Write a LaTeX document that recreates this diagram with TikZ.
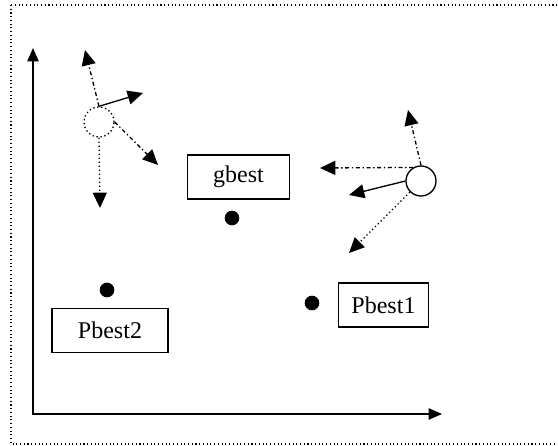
\documentclass[tikz,border=0pt]{standalone}
\usepackage{fontspec}
\setmainfont{Liberation Serif}
\usetikzlibrary{arrows.meta}

\begin{document}
\begin{tikzpicture}[x=0.75pt, y=-0.75pt,
    every node/.style={font=\fontsize{18}{21}\selectfont},
    bestbox/.style={draw, line width=0.9pt, minimum height=33pt, inner sep=0pt},
    bestdot/.style={circle, fill=black, minimum size=11pt, inner sep=0pt},
    particle/.style={circle, draw, line width=1pt, minimum size=22.5pt, inner sep=0pt},
    move/.style={line width=1pt, -{Triangle[length=11.5pt, width=10.5pt]}},
    axis/.style={line width=1pt, {Triangle[length=10pt, width=8.5pt]}-{Triangle[length=10pt, width=8.5pt]}}]
  \useasboundingbox (0,0) rectangle (558,446);
  \draw[dotted, line width=0.8pt] (11,5) rectangle (575,444);

  % axes
  \coordinate (ytip) at (33,48);
  \coordinate (xtip) at (442,414);
  \draw[axis] (ytip) |- (xtip);

  % best positions
  \node[bestbox, minimum width=77pt] (gbest) at (238.5,177) {gbest};
  \node[bestbox, minimum width=87pt] (pbest2) at (110,330.5) {Pbest2};
  \node[bestbox, minimum width=68pt] (pbest1) at (383.5,305) {Pbest1};
  \node[bestdot] (gdot) at (232,218) {};
  \node[bestdot] (p1dot) at (312,303) {};
  \node[bestdot] (p2dot) at (107,290) {};

  % particles
  \node[particle, dotted] (lp) at (99,122) {};
  \node[particle] (rp) at (421,181) {};

  % velocity components
  \coordinate (lv) at (143,93);
  \coordinate (lu) at (85,50);
  \coordinate (lr) at (158,165);
  \coordinate (ld) at (100,208);
  \draw[move] (lp.north) -- (lv);
  \draw[move, dash dot] (lp.north) -- (lu);
  \draw[move, dash dot] (lp.east) -- (lr);
  \draw[move, dotted] (lp.south) -- (ld);

  \coordinate (ru) at (408,110);
  \coordinate (rl) at (320,168);
  \coordinate (rv) at (349,195);
  \coordinate (rd) at (349,253);
  \draw[move, dash dot] (rp.north) -- (ru);
  \draw[move, dash dot] (rp.120) -- (rl);
  \draw[move] (rp.west) -- (rv);
  \draw[move, dotted] (rp.south west) -- (rd);
\end{tikzpicture}
\end{document}
